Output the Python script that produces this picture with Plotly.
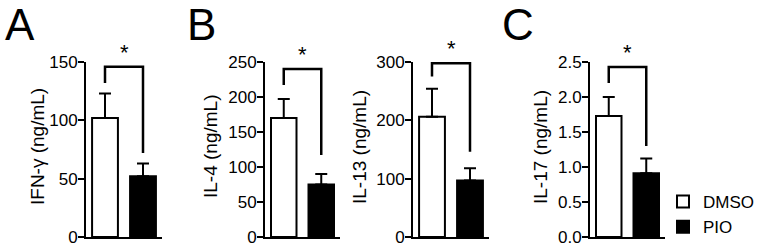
import plotly.graph_objects as go

# ---- data ----
groups = ["DMSO", "PIO"]
panels = ["IFN-γ (ng/mL)", "IL-4 (ng/mL)", "IL-13 (ng/mL)", "IL-17 (ng/mL)"]
dmso_mean = [102, 170, 206, 1.73]
dmso_err = [21, 27, 48, 0.27]
pio_mean = [52, 75, 97, 0.91]
pio_err = [11, 15, 21, 0.21]
y_max = [150, 250, 300, 2.5]
y_dtick = [50, 50, 100, 0.5]
y_fmt = ["d", "d", "d", ".1f"]
# significance bracket: top, left leg end, right leg end (data units)
bracket_top = [146, 240, 298, 2.43]
bracket_left = [132, 217, 275, 2.20]
bracket_right = [72, 117, 146, 1.30]
sig_label = ["*", "*", "*", "*"]
panel_letters = ["A", "B", "C"]

W, H = 759, 248
FONT = "Arial, Liberation Sans, Helvetica, sans-serif"

# layout geometry (pixels)
x_dom_px = [(86, 162), (265, 340), (413, 489), (590, 665)]
y_dom_px = (237, 62)  # bottom, top
title_px = [(37, 147), (210, 147), (359, 147), (540, 147)]  # centre of y titles
letter_px = [(20, 24), (201, 24), (518, 24)]  # centre of each panel letter

fig = go.Figure()
shapes = []
annotations = []

ydom = [(H - y_dom_px[0]) / H, (H - y_dom_px[1]) / H]

for i in range(4):
    xa = "x" if i == 0 else f"x{i + 1}"
    ya = "y" if i == 0 else f"y{i + 1}"
    show_leg = i == 3
    fig.add_trace(go.Bar(
        x=[0], y=[dmso_mean[i]], name=groups[0], xaxis=xa, yaxis=ya,
        width=0.68, marker=dict(color="white", line=dict(color="black", width=2)),
        error_y=dict(type="data", array=[dmso_err[i]], arrayminus=[0], symmetric=False,
                     color="black", thickness=2, width=6),
        showlegend=show_leg, legendgroup="dmso"))
    fig.add_trace(go.Bar(
        x=[1], y=[pio_mean[i]], name=groups[1], xaxis=xa, yaxis=ya,
        width=0.68, marker=dict(color="black", line=dict(color="black", width=2)),
        error_y=dict(type="data", array=[pio_err[i]], arrayminus=[0], symmetric=False,
                     color="black", thickness=2, width=6),
        showlegend=show_leg, legendgroup="pio"))

    xdom = [x_dom_px[i][0] / W, x_dom_px[i][1] / W]
    axis_common = dict(showline=True, linecolor="black", linewidth=2,
                       showgrid=False, zeroline=False, automargin=False)
    fig.update_layout(**{
        ("xaxis" if i == 0 else f"xaxis{i + 1}"): dict(
            domain=xdom, range=[-0.5, 1.5], anchor=ya, showticklabels=False,
            ticks="", fixedrange=True, **axis_common),
        ("yaxis" if i == 0 else f"yaxis{i + 1}"): dict(
            domain=ydom, range=[0, y_max[i]], anchor=xa, dtick=y_dtick[i], tick0=0,
            tickformat=y_fmt[i], ticks="outside", ticklen=6, tickwidth=2,
            tickcolor="black", tickfont=dict(size=17, color="black", family=FONT),
            ticklabelstandoff=-3, fixedrange=True, **axis_common),
    })

    # y-axis title as rotated text
    tx, ty = title_px[i]
    annotations.append(dict(
        x=tx / W, y=1 - ty / H, xref="paper", yref="paper", text=panels[i],
        textangle=-90, showarrow=False, xanchor="center", yanchor="middle",
        font=dict(size=19, color="black", family=FONT)))

    shapes.append(dict(
        type="path", xref=xa, yref=ya,
        path=(f"M 0 {bracket_left[i]} L 0 {bracket_top[i]} "
              f"L 1 {bracket_top[i]} L 1 {bracket_right[i]}"),
        line=dict(color="black", width=2.5)))
    annotations.append(dict(
        x=0.5, y=bracket_top[i], xref=xa, yref=ya, text=sig_label[i],
        showarrow=False, yanchor="bottom", yshift=0,
        font=dict(size=22, color="black", family=FONT)))

for letter, (lx, ly) in zip(panel_letters, letter_px):
    annotations.append(dict(
        x=lx / W, y=1 - ly / H, xref="paper", yref="paper", text=letter,
        showarrow=False, xanchor="center", yanchor="middle",
        font=dict(size=44, color="black", family=FONT)))

fig.update_layout(
    width=W, height=H, margin=dict(l=0, r=0, t=0, b=0, autoexpand=False),
    paper_bgcolor="white", plot_bgcolor="white",
    font=dict(family=FONT, color="black"),
    barmode="overlay", shapes=shapes, annotations=annotations,
    legend=dict(x=663 / W, y=1 - 184 / H, xanchor="left", yanchor="top",
                font=dict(size=17, color="black", family=FONT),
                bgcolor="rgba(0,0,0,0)", tracegroupgap=0, itemclick=False),
)

# remove the browser's default 8px page margin so the figure sits at (0, 0)
fig.write_html("out.html", config={"displayModeBar": False},
               post_script="document.body.style.margin='0';")
